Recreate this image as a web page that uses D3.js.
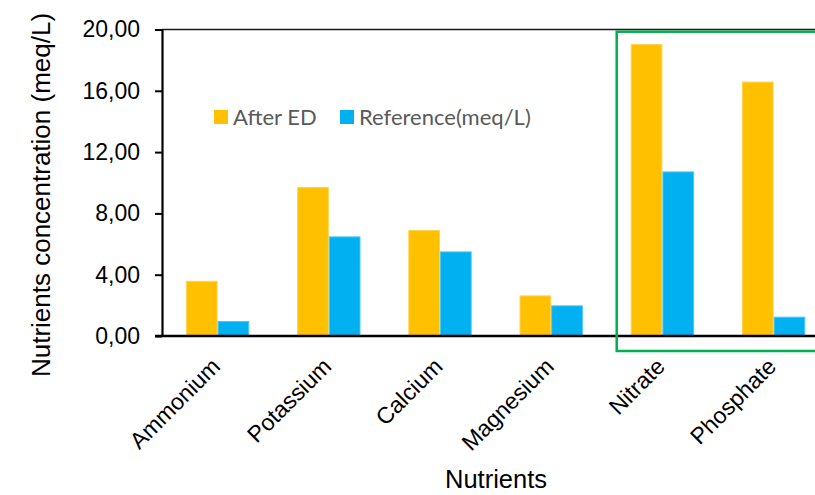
<!DOCTYPE html>
<html>
<head>
<meta charset="utf-8">
<script src="https://cdn.jsdelivr.net/npm/d3@7/dist/d3.min.js"></script>
<style>
  html, body { margin: 0; padding: 0; background: #fff; overflow: hidden; }
  svg { display: block; }
</style>
</head>
<body>
<svg id="chart" width="815" height="495"></svg>
<script>
// Nutrient concentrations after electrodialysis vs. reference solution (meq/L)
const categories = ["Ammonium", "Potassium", "Calcium", "Magnesium", "Nitrate", "Phosphate"];
const seriesNames = ["After ED", "Reference(meq/L)"];
const afterED = [3.6, 9.72, 6.92, 2.65, 19.05, 16.6];
const reference = [0.98, 6.5, 5.52, 2.0, 10.74, 1.26];
const yTicks = [0, 4, 8, 12, 16, 20];
const highlighted = ["Nitrate", "Phosphate"];

const colors = ["#FFC000", "#00B0F0"];
const edgeColors = ["#FFD34D", "#4CC8F5"];

const svg = d3.select("#chart");
const W = 815, H = 495;
const margin = { left: 162, top: 29.5, bottom: 159 };
const plotBottom = H - margin.bottom;   // y of the zero line
const step = 111.2;                      // width of one category slot

const x = d3.scaleBand()
  .domain(categories)
  .range([margin.left, margin.left + step * categories.length])
  .paddingInner(0.43)
  .paddingOuter(0.215);

const xSeries = d3.scaleBand()
  .domain(seriesNames)
  .range([0, x.bandwidth()]);

const y = d3.scaleLinear()
  .domain([0, 20])
  .range([plotBottom, margin.top]);

const fmt = d => d.toFixed(2).replace(".", ",");

// Top border of the plot area
svg.append("line")
  .attr("x1", margin.left).attr("x2", W + 10)
  .attr("y1", y(20)).attr("y2", y(20))
  .attr("stroke", "#1a1a1a").attr("stroke-width", 1.6);

// Bars
const rows = categories.map((c, i) => ({ cat: c, vals: [afterED[i], reference[i]] }));
const groups = svg.append("g").selectAll("g")
  .data(rows)
  .join("g")
  .attr("transform", d => `translate(${x(d.cat)},0)`);

groups.selectAll("rect")
  .data(d => d.vals.map((v, k) => ({ v, k })))
  .join("rect")
  .attr("x", d => xSeries(seriesNames[d.k]) + 0.5)
  .attr("width", xSeries.bandwidth() - 1)
  .attr("y", d => y(d.v) + 0.5)
  .attr("height", d => plotBottom - y(d.v) - 0.5)
  .attr("fill", d => colors[d.k])
  .attr("stroke", d => edgeColors[d.k])
  .attr("stroke-width", 1);

// Y axis
const yAxis = svg.append("g")
  .attr("transform", `translate(${margin.left},0)`)
  .call(d3.axisLeft(y).tickValues(yTicks).tickFormat(fmt).tickSize(7).tickPadding(15).tickSizeOuter(0));
yAxis.select(".domain").attr("stroke", "#000").attr("stroke-width", 2.2);
yAxis.selectAll(".tick line").attr("stroke", "#000").attr("stroke-width", 2);
yAxis.selectAll(".tick text")
  .attr("font-family", "'Liberation Sans', Arial, sans-serif")
  .attr("font-size", 23)
  .attr("fill", "#000");

// X axis baseline (no tick marks)
const xAxis = svg.append("g")
  .attr("transform", `translate(0,${plotBottom})`)
  .call(d3.axisBottom(x).tickSize(0).tickSizeOuter(0).tickFormat(""));
xAxis.select(".domain").remove();
svg.append("line")
  .attr("x1", margin.left - 7).attr("x2", W + 10)
  .attr("y1", plotBottom).attr("y2", plotBottom)
  .attr("stroke", "#000").attr("stroke-width", 2.4);

// Rotated category labels
xAxis.selectAll(".tick").each(function (d) {
  d3.select(this).select("text").remove();
  d3.select(this).append("text")
    .attr("transform", `translate(4,32) rotate(-45)`)
    .attr("text-anchor", "end")
    .attr("font-family", "'Liberation Sans', Arial, sans-serif")
    .attr("font-size", 23)
    .attr("fill", "#000")
    .text(d);
});

// Axis titles
svg.append("text")
  .attr("transform", `translate(50,195) rotate(-90)`)
  .attr("text-anchor", "middle")
  .attr("font-family", "'Liberation Sans', Arial, sans-serif")
  .attr("font-size", 26)
  .attr("fill", "#000")
  .text("Nutrients concentration (meq/L)");

svg.append("text")
  .attr("x", 496).attr("y", 488)
  .attr("text-anchor", "middle")
  .attr("font-family", "'Liberation Sans', Arial, sans-serif")
  .attr("font-size", 25.5)
  .attr("fill", "#000")
  .text("Nutrients");

// Legend
const legendItems = [
  { name: seriesNames[0], color: colors[0], x: 214 },
  { name: seriesNames[1], color: colors[1], x: 340 }
];
const legend = svg.append("g");
legendItems.forEach(it => {
  legend.append("rect")
    .attr("x", it.x).attr("y", 110)
    .attr("width", 14).attr("height", 14)
    .attr("fill", it.color);
  legend.append("text")
    .attr("x", it.x + 19).attr("y", 124.5)
    .attr("font-family", "Lato, 'Open Sans', sans-serif")
    .attr("font-size", 22)
    .attr("fill", "#595959")
    .text(it.name);
});

// Highlight box around the anion categories
const hx0 = x(highlighted[0]) - 14;
svg.append("rect")
  .attr("x", hx0)
  .attr("y", y(20) + 2.2)
  .attr("width", W + 20 - hx0)
  .attr("height", plotBottom + 15 - (y(20) + 2.2))
  .attr("fill", "none")
  .attr("stroke", "#00B050")
  .attr("stroke-width", 2.5);
</script>
</body>
</html>
